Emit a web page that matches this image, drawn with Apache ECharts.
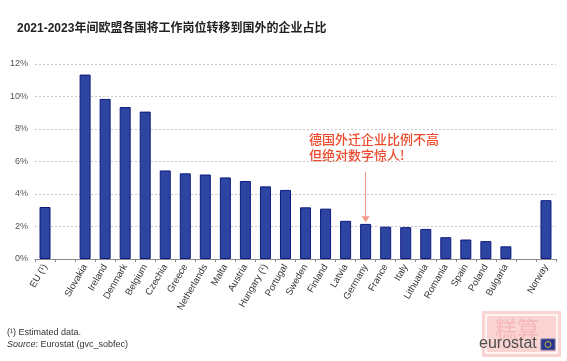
<!DOCTYPE html>
<html>
<head>
<meta charset="utf-8">
<script src="https://cdn.jsdelivr.net/npm/echarts@6/dist/echarts.min.js"></script>
<style>
html,body{margin:0;padding:0;background:#fff;}
#c{width:567px;height:361px;}
</style>
</head>
<body>
<div id="c"></div>
<script>
var categories = ['EU (¹)', ' ', 'Slovakia', 'Ireland', 'Denmark', 'Belgium', 'Czechia', 'Greece', 'Netherlands', 'Malta', 'Austria', 'Hungary (¹)', 'Portugal', 'Sweden', 'Finland', 'Latvia', 'Germany', 'France', 'Italy', 'Lithuania', 'Romania', 'Spain', 'Poland', 'Bulgaria', '  ', 'Norway'];
var shares = [3.2, null, 11.35, 9.85, 9.35, 9.07, 5.45, 5.27, 5.2, 5.02, 4.8, 4.47, 4.25, 3.18, 3.1, 2.35, 2.16, 1.99, 1.96, 1.85, 1.34, 1.2, 1.1, 0.78, null, 3.62];
var yTicks = [0, 2, 4, 6, 8, 10, 12];
var titleText = '2021-2023年间欧盟各国将工作岗位转移到国外的企业占比';
var noteLines = ['德国外迁企业比例不高', '但绝对数字惊人!'];
var arrowFrom = 5.37, arrowTo = 2.45, arrowCat = 'Germany';

var FONT = '"Liberation Sans", Arial, "Noto Sans CJK SC", sans-serif';
var chart = echarts.init(document.getElementById('c'), null, {renderer: 'canvas'});
chart.setOption({
  animation: false,
  backgroundColor: '#fff',
  textStyle: {fontFamily: FONT},
  grid: {left: 35, right: 11, top: 64, bottom: 102, containLabel: false},
  xAxis: {
    type: 'category',
    data: categories,
    boundaryGap: true,
    axisLine: {lineStyle: {color: '#8a8a8a', width: 1}},
    axisTick: {show: true, length: 3, lineStyle: {color: '#8a8a8a'}, interval: 0},
    axisLabel: {interval: 0, rotate: 60, fontSize: 9.5, color: '#333', margin: 6, fontFamily: FONT}
  },
  yAxis: {
    type: 'value',
    min: yTicks[0], max: yTicks[yTicks.length - 1], interval: 2,
    axisLine: {show: false},
    axisTick: {show: false},
    axisLabel: {formatter: '{value}%', fontSize: 9, color: '#555', margin: 7, fontFamily: FONT},
    splitLine: {lineStyle: {color: '#c8c8c8', type: [2, 2], width: 1}}
  },
  series: [{
    type: 'bar',
    data: shares,
    barWidth: 11,
    itemStyle: {color: '#2c45a0', borderColor: '#0e1a80', borderWidth: 1},
    markLine: {
      silent: true,
      symbol: ['none', 'triangle'],
      symbolSize: [8, 6],
      label: {show: false},
      lineStyle: {color: '#f49a8a', width: 1, type: 'solid'},
      data: [[{coord: [arrowCat, arrowFrom], itemStyle: {color: '#e8452c'}}, {coord: [arrowCat, arrowTo], itemStyle: {color: '#e8452c'}}]]
    }
  }],
  graphic: [
    {type: 'text', left: 17, top: 23, style: {text: titleText, font: 'bold 12px ' + FONT, fill: '#222'}},
    {type: 'text', left: 309, top: 131, style: {text: noteLines.join('\n'), font: '500 13px "Noto Sans CJK SC", sans-serif', fill: '#ec4a2c', lineHeight: 16}},
    {type: 'text', left: 7, top: 328, style: {text: '(¹) Estimated data.', font: '9px ' + FONT, fill: '#333'}},
    {type: 'text', left: 7, top: 340, style: {text: '{i|Source}: Eurostat (gvc_sobfec)', font: '9px ' + FONT, fill: '#333', rich: {i: {fontStyle: 'italic', fontSize: 9, fill: '#333', fontFamily: FONT}}}},
    {type: 'rect', shape: {x: 482, y: 311, width: 79, height: 46}, style: {fill: '#fad3d3'}},
    {type: 'rect', shape: {x: 486, y: 315, width: 71, height: 38}, style: {fill: 'none', stroke: '#fff', lineWidth: 1.5}},
    {type: 'text', left: 495, top: 318, style: {text: '糕算', font: '22px "Noto Sans CJK SC", sans-serif', fill: '#f5b9b9'}},
    {type: 'text', left: 479, top: 336, style: {text: 'eurostat', font: '16px ' + FONT, fill: '#4d4d4d'}},
    {type: 'rect', shape: {x: 541, y: 339, width: 14, height: 11}, style: {fill: '#27348b', stroke: '#6a6aa0', lineWidth: 1}},
    {type: 'circle', shape: {cx: 548, cy: 344.5, r: 3}, style: {fill: 'none', stroke: '#c9b84a', lineWidth: 1}}
  ]
});
</script>
</body>
</html>
